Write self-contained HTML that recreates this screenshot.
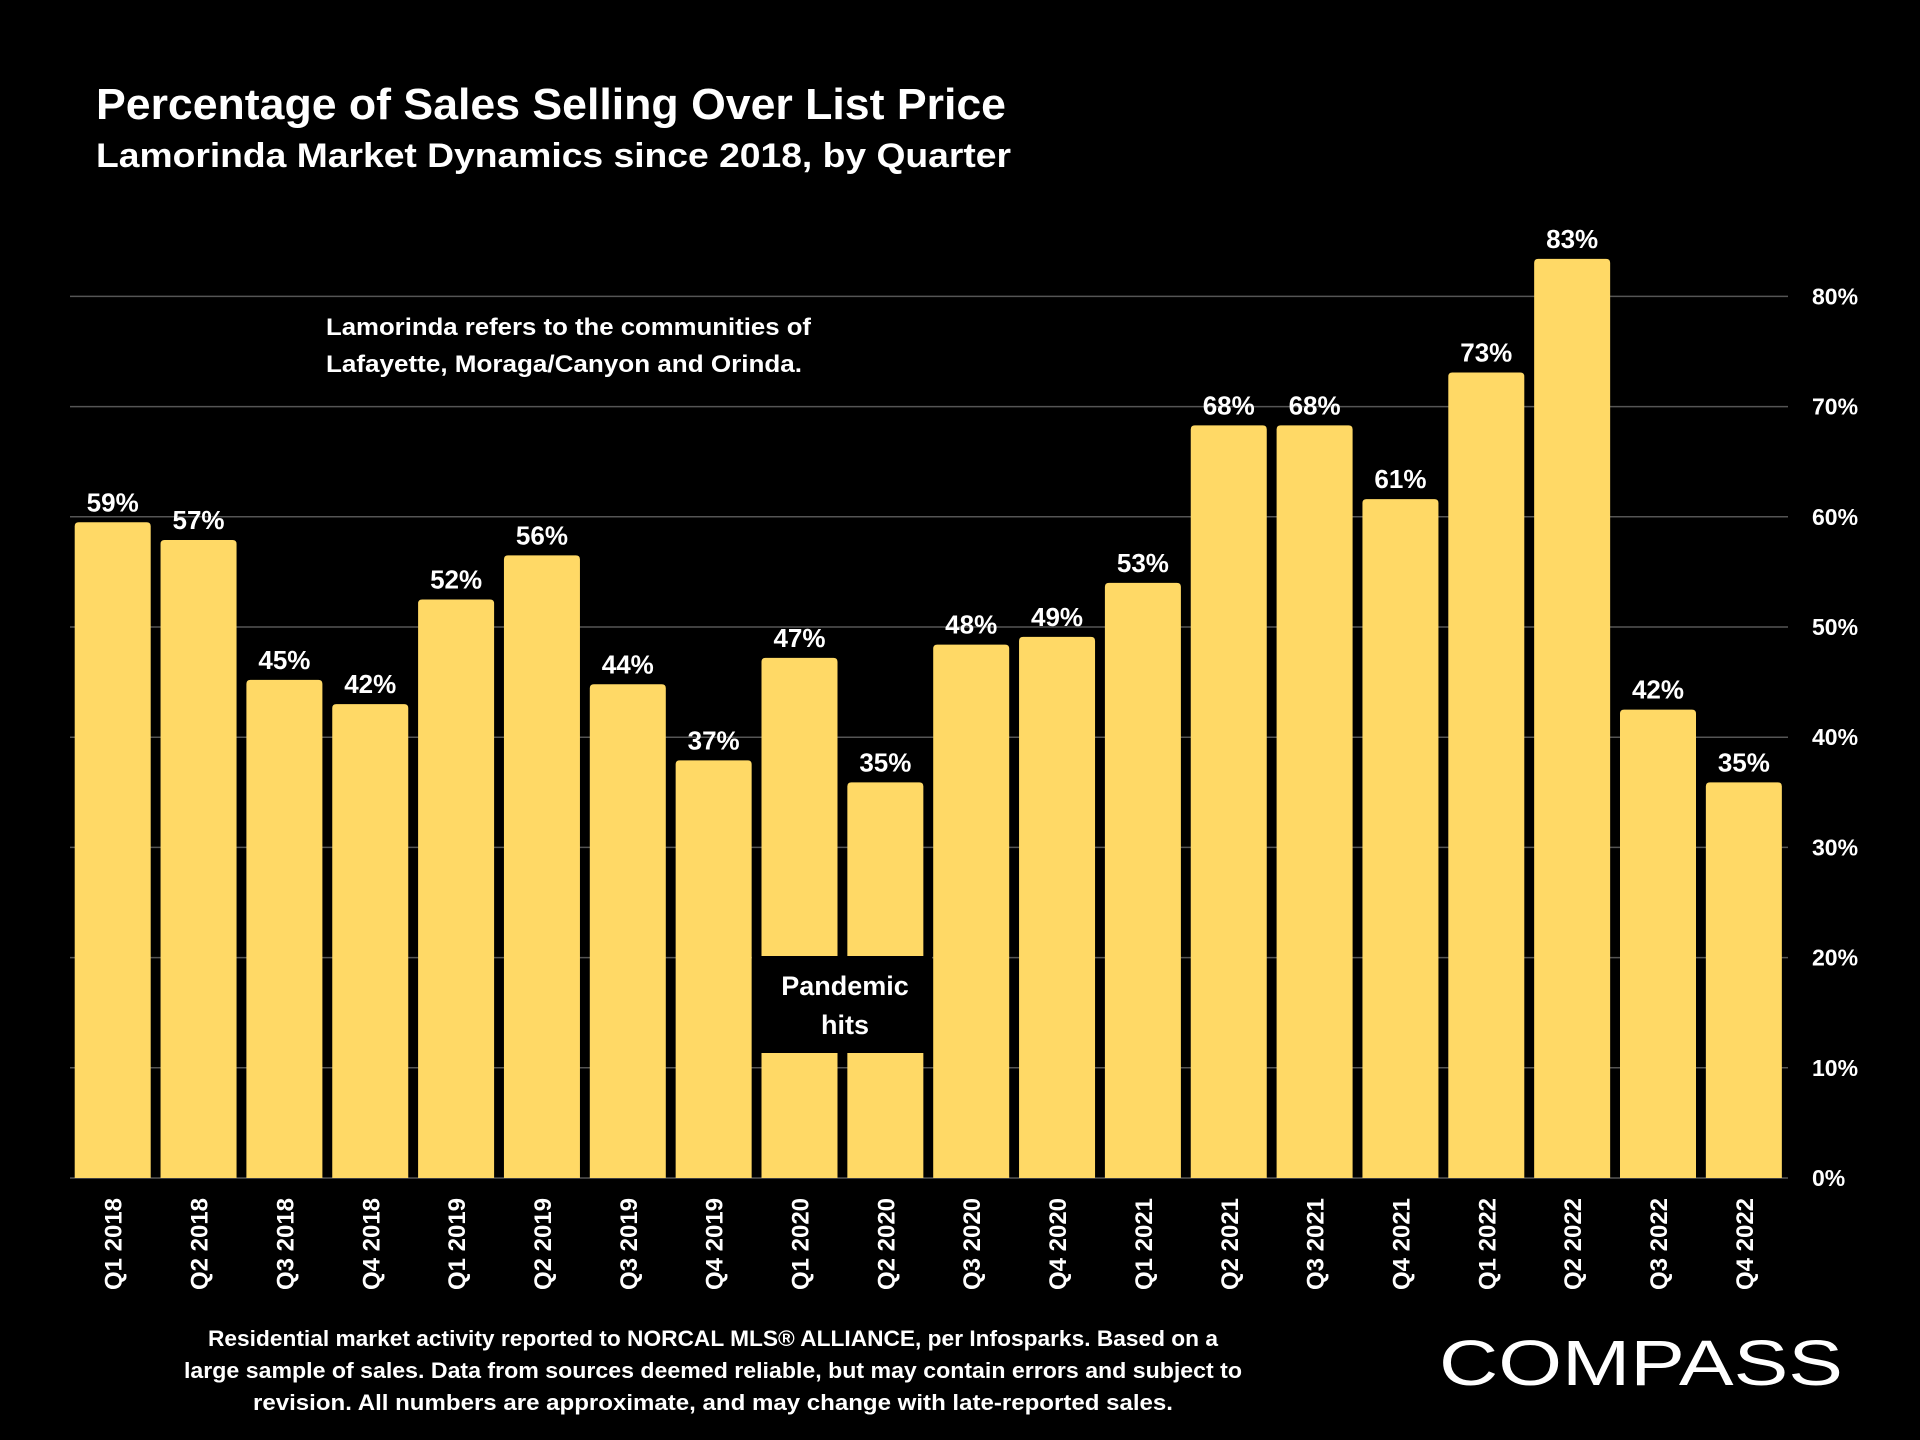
<!DOCTYPE html>
<html><head><meta charset="utf-8"><style>
html,body{margin:0;padding:0;background:#000;}
svg{display:block;font-family:"Liberation Sans",sans-serif;}
</style></head><body>
<svg id="chart" width="1920" height="1440" viewBox="0 0 1920 1440">
<rect width="1920" height="1440" fill="#000"/>
<text x="96" y="119" fill="#fff" font-size="44" font-weight="bold" textLength="910" lengthAdjust="spacingAndGlyphs">Percentage of Sales Selling Over List Price</text>
<text x="96" y="167" fill="#fff" font-size="34" font-weight="bold" textLength="915" lengthAdjust="spacingAndGlyphs">Lamorinda Market Dynamics since 2018, by Quarter</text>
<g id="grid"></g>
<g id="bars"></g>
<rect x="752" y="956" width="180" height="97" fill="#000"/>
<text fill="#fff" font-size="27" font-weight="bold" text-anchor="middle"><tspan x="845" y="995">Pandemic</tspan><tspan x="845" y="1034">hits</tspan></text>
<text fill="#fff" font-size="24" font-weight="bold"><tspan x="326" y="335" textLength="485" lengthAdjust="spacingAndGlyphs">Lamorinda refers to the communities of</tspan><tspan x="326" y="372" textLength="476" lengthAdjust="spacingAndGlyphs">Lafayette, Moraga/Canyon and Orinda.</tspan></text>
<text fill="#fff" font-size="22" font-weight="bold" text-anchor="middle"><tspan x="713" y="1346" textLength="1010" lengthAdjust="spacingAndGlyphs">Residential market activity reported to NORCAL MLS® ALLIANCE, per Infosparks. Based on a</tspan><tspan x="713" y="1378" textLength="1058" lengthAdjust="spacingAndGlyphs">large sample of sales. Data from sources deemed reliable, but may contain errors and subject to</tspan><tspan x="713" y="1410" textLength="920" lengthAdjust="spacingAndGlyphs">revision. All numbers are approximate, and may change with late-reported sales.</tspan></text>
<text x="1439" y="1385" fill="#fff" font-size="64" textLength="404" lengthAdjust="spacingAndGlyphs">COMPASS</text>
</svg>
<script>
const categories=["Q1 2018","Q2 2018","Q3 2018","Q4 2018","Q1 2019","Q2 2019","Q3 2019","Q4 2019","Q1 2020","Q2 2020","Q3 2020","Q4 2020","Q1 2021","Q2 2021","Q3 2021","Q4 2021","Q1 2022","Q2 2022","Q3 2022","Q4 2022"];
const values=[59.5,57.9,45.2,43.0,52.5,56.5,44.8,37.9,47.2,35.9,48.4,49.1,54.0,68.3,68.3,61.6,73.1,83.4,42.5,35.9];
const valueLabels=["59%","57%","45%","42%","52%","56%","44%","37%","47%","35%","48%","49%","53%","68%","68%","61%","73%","83%","42%","35%"];
const yTicks=[0,10,20,30,40,50,60,70,80];
const yTickLabels=["0%","10%","20%","30%","40%","50%","60%","70%","80%"];
const NS="http://www.w3.org/2000/svg";
const y0=1178,pxPer=11.02,x0=74.7,step=85.85,bw=76;
function yScale(v){return y0-v*pxPer;}
function xScale(i){return x0+i*step;}
function mk(t,a,p){const e=document.createElementNS(NS,t);for(const k in a)e.setAttribute(k,a[k]);p.appendChild(e);return e;}
const grid=document.getElementById('grid'),bars=document.getElementById('bars');
yTicks.forEach((t,i)=>{
 const l=mk('line',{x1:70,x2:1788,y1:yScale(t),y2:yScale(t),stroke:'#555','stroke-width':1.5},grid);
 
 
 const tx=mk('text',{x:1812,y:yScale(t)+8,fill:'#fff','font-size':23,'font-weight':'bold'},grid);
 tx.textContent=yTickLabels[i];
 
 
});
values.forEach((v,i)=>{
 const x=xScale(i),top=yScale(v),h=y0-top;
 const r=mk('path',{d:`M${x},${y0}V${top+4}Q${x},${top} ${x+4},${top}H${x+bw-4}Q${x+bw},${top} ${x+bw},${top+4}V${y0}Z`,fill:'#FFD966'},bars);
 
 
 const t=mk('text',{x:x+bw/2,y:top-11,fill:'#fff','font-size':26,'font-weight':'bold','text-anchor':'middle'},bars);
 t.textContent=valueLabels[i];
 
 
 const c=x+bw/2;
 const xl=mk('text',{x:0,y:0,fill:'#fff','font-size':24,'font-weight':'bold','text-anchor':'end',transform:`translate(${c+9},1198) rotate(-90)`,textLength:92,lengthAdjust:'spacingAndGlyphs'},bars);
 xl.textContent=categories[i];
 
 
});
</script>
</body></html>
